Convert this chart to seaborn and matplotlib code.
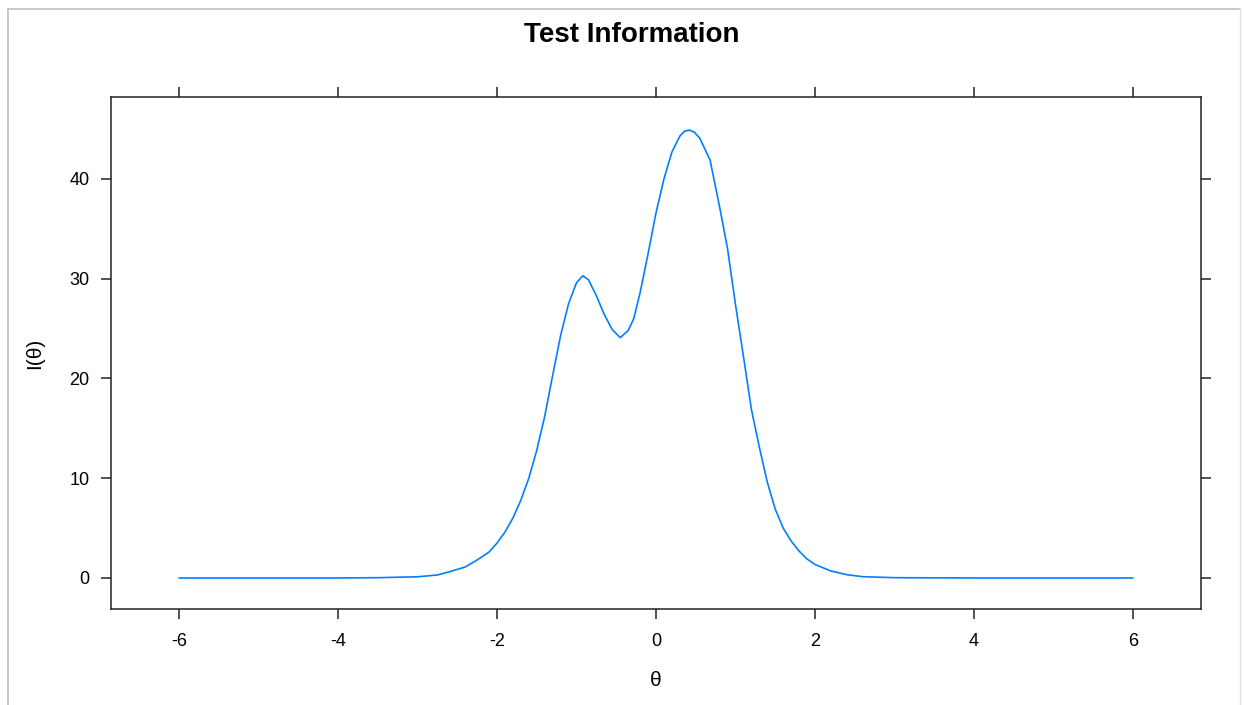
import matplotlib
matplotlib.use("Agg")
import matplotlib.pyplot as plt
import seaborn as sns
import pandas as pd
from matplotlib.lines import Line2D

theta = [-6.0, -5.0, -4.0, -3.5, -3.0, -2.75, -2.6, -2.4, -2.25, -2.1, -2.0, -1.9, -1.8,
         -1.7, -1.6, -1.5, -1.4, -1.3, -1.2, -1.1, -1.0, -0.92, -0.85, -0.75, -0.65,
         -0.55, -0.45, -0.35, -0.28, -0.2, -0.1, 0.0, 0.1, 0.2, 0.3, 0.36, 0.42, 0.48,
         0.55, 0.68, 0.8, 0.9, 1.0, 1.1, 1.2, 1.3, 1.4, 1.5, 1.6, 1.7, 1.8, 1.9, 2.0,
         2.2, 2.4, 2.6, 3.0, 4.0, 5.0, 6.0]
info = [0.0, 0.0, 0.0, 0.03, 0.12, 0.3, 0.62, 1.1, 1.8, 2.6, 3.5, 4.6, 6.0,
        7.8, 10.0, 12.8, 16.2, 20.3, 24.3, 27.5, 29.6, 30.3, 29.9, 28.3, 26.4,
        24.9, 24.1, 24.8, 26.0, 28.6, 32.5, 36.6, 40.0, 42.7, 44.3, 44.8, 44.9, 44.7,
        44.1, 41.9, 37.2, 33.0, 27.4, 22.2, 16.9, 13.1, 9.6, 6.9, 5.0, 3.7, 2.7, 1.9, 1.35,
        0.7, 0.33, 0.13, 0.03, 0.0, 0.0, 0.0]
x_ticks = [-6, -4, -2, 0, 2, 4, 6]
y_ticks = [0, 10, 20, 30, 40]

df = pd.DataFrame({"theta": theta, "info": info})

sns.set_theme(style="white")
plt.rcParams["font.family"] = ["Liberation Sans", "DejaVu Sans"]
plt.rcParams["axes.unicode_minus"] = False
plt.rcParams["text.color"] = "black"
plt.rcParams["axes.labelcolor"] = "black"

fig = plt.figure(figsize=(12.44, 7.05), dpi=100)
ax = fig.add_axes([111/1244, 1-609/705, (1201-111)/1244, (609-97)/705])

sns.lineplot(data=df, x="theta", y="info", ax=ax, color="#0080ff", linewidth=1.2)

ax.set_xlim(-6.855, 6.855)
ax.set_ylim(-3.11, 48.22)
ax.set_xticks(x_ticks)
ax.set_xticklabels([str(t) for t in x_ticks])
ax.set_yticks(y_ticks)
ax.set_yticklabels([str(t) for t in y_ticks])
ax.tick_params(axis="both", which="both", direction="out", length=7.3, width=1.1,
               color="#222222", labelsize=13, labelcolor="black",
               top=True, right=True, bottom=True, left=True)
ax.tick_params(axis="x", labeltop=False, pad=10)
ax.tick_params(axis="y", labelright=False, pad=8)
for s in ax.spines.values():
    s.set_visible(True)
    s.set_color("#222222")
    s.set_linewidth(1.1)

ax.set_xlabel("θ", fontsize=15, va="center")
ax.xaxis.set_label_coords(0.5, (609-680)/512)
ax.set_ylabel("I(θ)", fontsize=15, va="center")
ax.yaxis.set_label_coords((35-111)/1090, 0.5)
fig.text(632/1244, 1-35/705, "Test Information", ha="center", va="center",
         fontsize=20, fontweight="bold", color="black")

# outer frame lines
fig.add_artist(Line2D([8/1244, 8/1244], [0, 1-9/705], transform=fig.transFigure,
                      color="#c0c0c0", linewidth=1.2))
fig.add_artist(Line2D([8/1244, 1240/1244], [1-9/705, 1-9/705], transform=fig.transFigure,
                      color="#c0c0c0", linewidth=1.2))
fig.add_artist(Line2D([1240/1244, 1240/1244], [0, 1-9/705], transform=fig.transFigure,
                      color="#e0e0e0", linewidth=1.0))

fig.savefig("out.png", dpi=100)
